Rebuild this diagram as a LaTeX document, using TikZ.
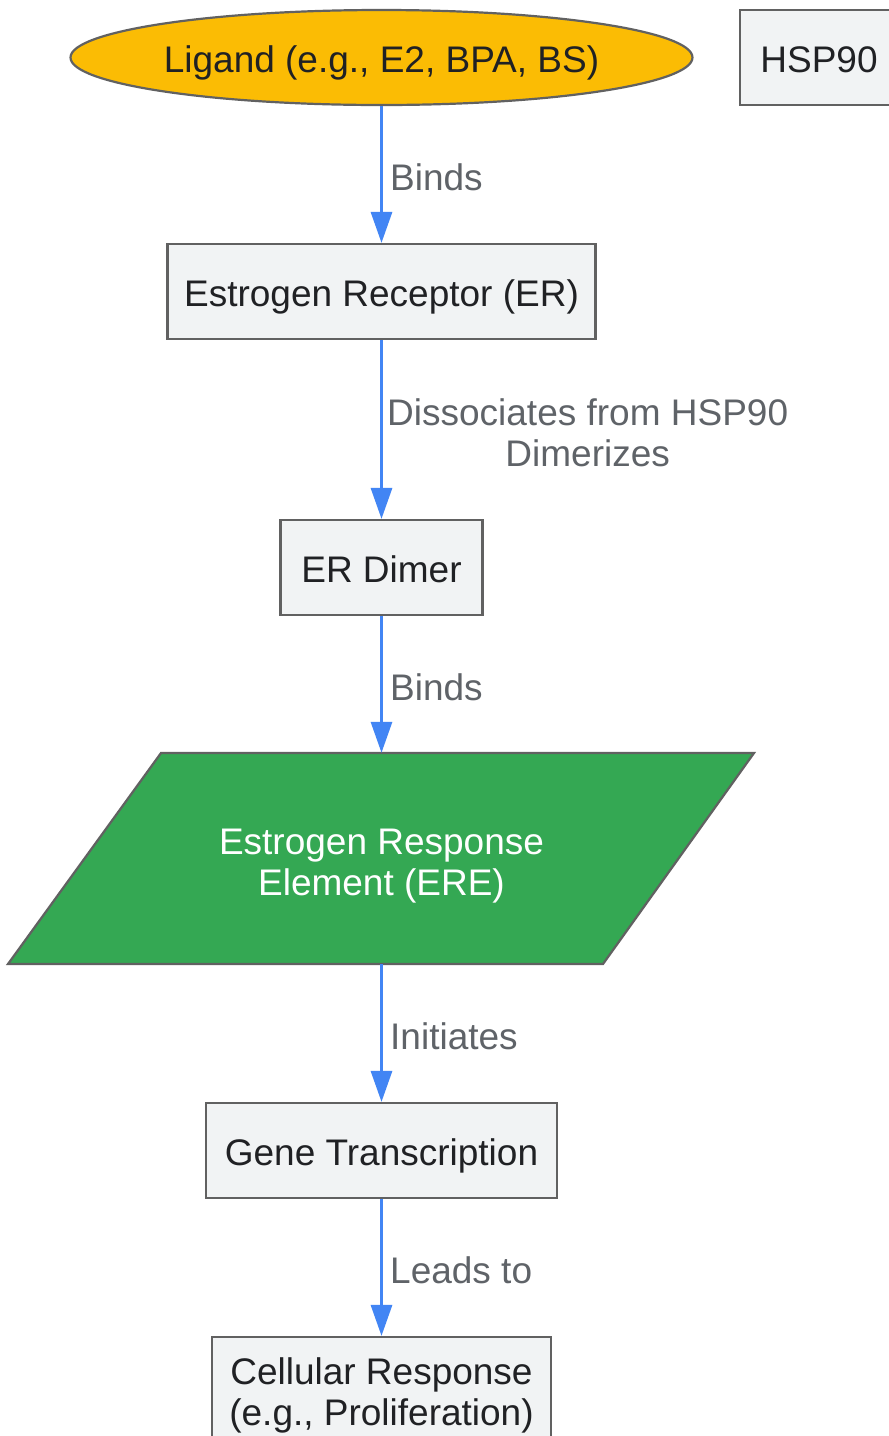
\documentclass[tikz,border=0pt]{standalone}
\usepackage{fontspec}
\setmainfont{Liberation Sans}
\usetikzlibrary{shapes.geometric,arrows.meta}
\definecolor{ligandfill}{HTML}{FBBC04}
\definecolor{boxfill}{HTML}{F1F3F4}
\definecolor{erefill}{HTML}{34A853}
\definecolor{edgeblue}{HTML}{4285F4}
\definecolor{bordergray}{HTML}{616161}
\definecolor{textdark}{HTML}{202124}
\definecolor{labelgray}{HTML}{5F6368}

\begin{document}
\begin{tikzpicture}[x=1pt,y=-1pt,
        every node/.style={font=\fontsize{37}{41}\selectfont, text=textdark},
        oneline/.style={text height=30.5pt, text depth=0pt},
        twoline/.style={text height=73.5pt, text depth=0pt},
        stepbox/.style={draw=bordergray, line width=2.2pt, fill=boxfill, inner sep=0pt, minimum height=95pt, align=center},
        flow/.style={draw=edgeblue, line width=3pt, -{Triangle[width=21pt,length=31pt]}},
        edgelabel/.style={text=labelgray, anchor=west, align=center, inner sep=0pt}]
        \clip (0,0) rectangle (889,1436);
        \fill [white] (0,0) rectangle (889,1436);
        % nodes
        \node [ellipse, oneline, draw=bordergray, line width=2.2pt, fill=ligandfill, minimum width=622pt, minimum height=95pt, inner sep=0pt] (ligand) at (381.5,57.5) {Ligand (e.g., E2, BPA, BS)};
        \node [stepbox, oneline, minimum width=158pt] (hsp) at (819,57.5) {HSP90};
        \node [stepbox, oneline, minimum width=428pt] (er) at (381.5,291.5) {Estrogen Receptor (ER)};
        \node [stepbox, oneline, minimum width=202pt] (dimer) at (381.5,567.5) {ER Dimer};
        \draw [bordergray, line width=2.2pt, fill=erefill] (161,753) -- (754,753) -- (603,964) -- (8,964) -- cycle;
        \node [twoline, text=white, align=center, inner sep=0pt, minimum height=211pt] (ere) at (381.5,858.5) {Estrogen Response\\Element (ERE)};
        \node [stepbox, oneline, minimum width=351pt] (gene) at (381.5,1150.5) {Gene Transcription};
        \node [stepbox, twoline, text height=69.5pt, minimum width=339pt, minimum height=107pt] (cell) at (381.5,1390.5) {Cellular Response\\(e.g., Proliferation)};
        % connectors
        \draw [flow] (ligand) -- (er);
        \draw [flow] (er) -- (dimer);
        \draw [flow] (dimer) -- (ere);
        \draw [flow] (ere) -- (gene);
        \draw [flow] (gene) -- (cell);
        % labels
        \node [edgelabel] (lbinds) at (390,177) {Binds};
        \node [edgelabel] (ldiss) at (387,432.5) {Dissociates from HSP90\\Dimerizes};
        \node [edgelabel] (lbindsere) at (390,687) {Binds};
        \node [edgelabel] (linit) at (390,1036) {Initiates};
        \node [edgelabel] (lleads) at (390,1270) {Leads to};
\end{tikzpicture}
\end{document}
